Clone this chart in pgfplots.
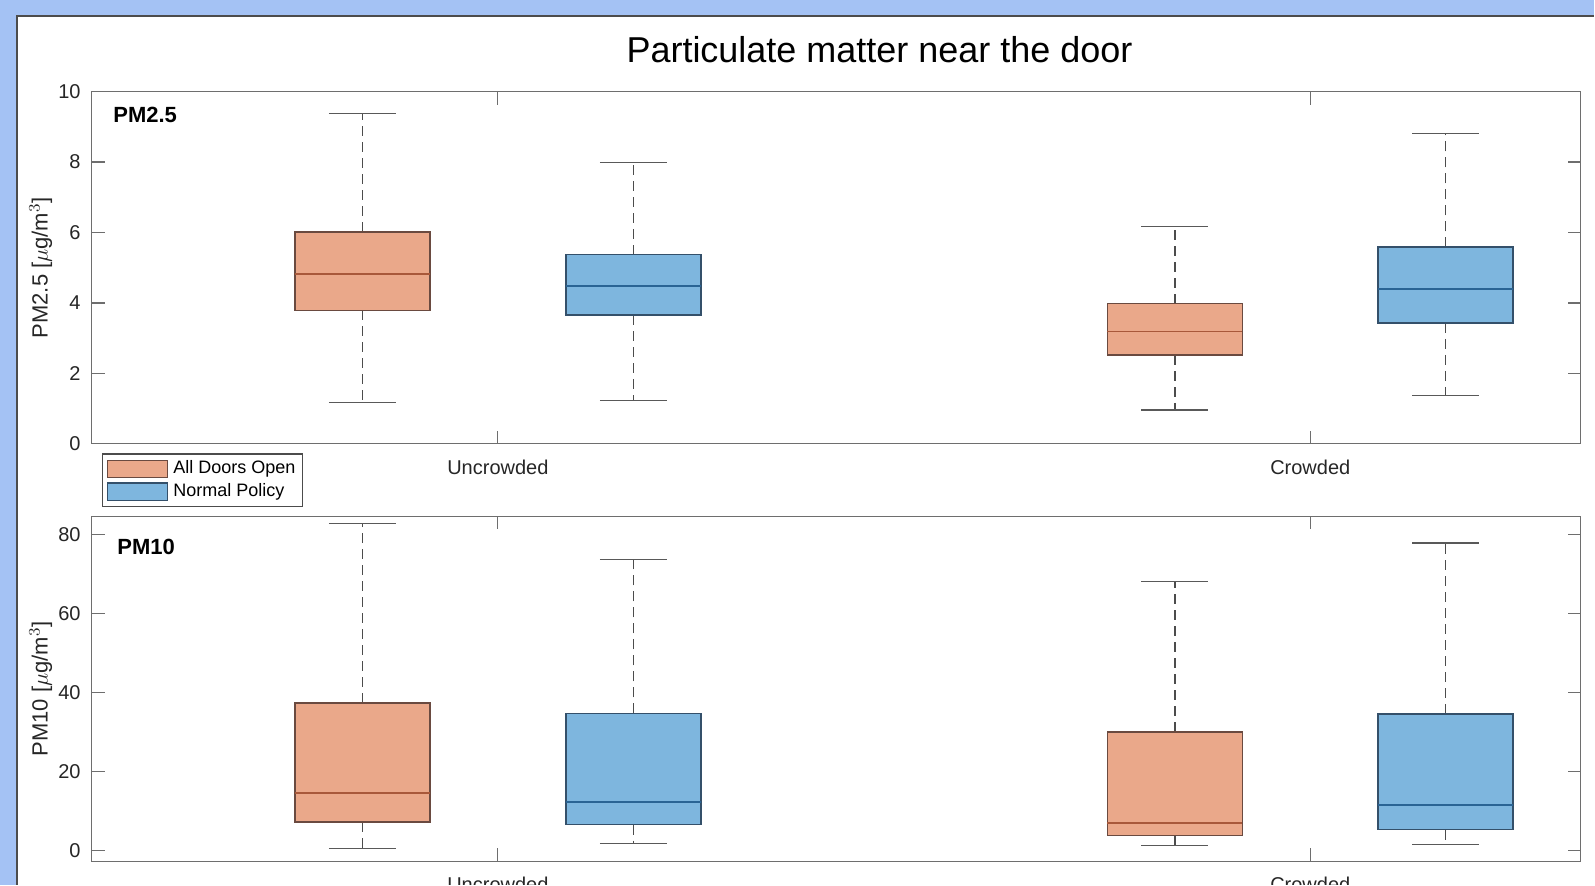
\documentclass[border=0pt]{standalone}
\usepackage{fontspec}
\setmainfont{Liberation Sans}
\usepackage{pgfplots}
\pgfplotsset{compat=1.18}
\definecolor{bgblue}{HTML}{A4C2F4}
\definecolor{orfill}{HTML}{EAA88A}
\definecolor{oredge}{HTML}{6A4A40}
\definecolor{ormedc}{HTML}{A8583A}
\definecolor{blfill}{HTML}{7EB6DE}
\definecolor{bledge}{HTML}{34506A}
\definecolor{blmedc}{HTML}{2A6494}
\definecolor{axgray}{HTML}{6E6E6E}
\definecolor{txtgray}{HTML}{262626}

\pgfplotsset{
  mybox/.style={
    scale only axis, width=745pt,
    xmin=0.5, xmax=2.333,
    xtick={1,2}, xticklabels={Uncrowded,Crowded},
    tick pos=both, ticklabel pos=left,
    tick align=inside, major tick length=6.5pt,
    axis line style={axgray, line width=0.6pt},
    every tick/.style={axgray, line width=0.6pt},
    tick label style={font=\fontsize{10}{12}\selectfont, text=txtgray},
    /pgf/number format/assume math mode=true,
    xticklabel style={yshift=-4.5pt},
    yticklabel style={xshift=-2pt},
    label style={font=\fontsize{11}{13}\selectfont, text=txtgray},
    ylabel style={at={(axis description cs:-0.0342,0.5)}, anchor=center},
    unbounded coords=jump,
  },
  orbox/.style={draw=oredge, fill=orfill, line width=0.8pt, mark=none, forget plot},
  blbox/.style={draw=bledge, fill=blfill, line width=0.8pt, mark=none, forget plot},
  ormed/.style={draw=ormedc, line width=0.9pt, mark=none, forget plot},
  blmed/.style={draw=blmedc, line width=0.9pt, mark=none, forget plot},
  whisk/.style={draw=black!70, line width=0.7pt, dash pattern=on 5pt off 3pt, mark=none, forget plot},
  wcap/.style={draw=black!65, line width=0.7pt, mark=none, forget plot},
}

\begin{document}
\begin{tikzpicture}
\fill[bgblue] (0pt,0pt) rectangle (797.5pt,442.5pt);
\fill[white] (8.5pt,0pt) rectangle (797.5pt,434.5pt);
\draw[black!70, line width=0.9pt] (8.5pt,0pt) -- (8.5pt,434.5pt) -- (797.5pt,434.5pt);
\path[use as bounding box] (0pt,0pt) rectangle (797.5pt,442.5pt);
\node[font=\fontsize{18}{21}\selectfont, text=black] at (440pt,417.5pt) {Particulate matter near the door};

\begin{scope}
\clip (0pt,0pt) rectangle (797.5pt,442.5pt);

% ---- PM2.5 ----
\begin{axis}[mybox,
  at={(45.85pt,220.5pt)}, anchor=south west,
  height=176.15pt,
  ymin=0, ymax=10, ytick={0,2,4,6,8,10},
  ylabel={PM2.5 [$\mu$g/m$^3$]},
  legend style={at={(axis description cs:0.0067,-0.0275)}, anchor=north west,
    draw=black!70, line width=0.6pt, fill=white,
    font=\fontsize{9}{10}\selectfont, text=black,
    inner xsep=2.2pt, inner ysep=1.7pt, row sep=0pt, column sep=1.5pt,
    nodes={inner sep=1.2pt, text height=7pt, text depth=2pt}},
  legend cell align=left,
]
\addlegendimage{legend image code/.code={\draw[draw=oredge, fill=orfill, line width=0.7pt] (0pt,-4.3pt) rectangle (30pt,4.3pt);}}
\addlegendentry{All Doors Open}
\addlegendimage{legend image code/.code={\draw[draw=bledge, fill=blfill, line width=0.7pt] (0pt,-4.3pt) rectangle (30pt,4.3pt);}}
\addlegendentry{Normal Policy}

% Uncrowded, All Doors Open: lw 1.18, q1 3.79, med 4.82, q3 6.02, uw 9.375
\addplot[whisk] coordinates {(0.8333,6.02) (0.8333,9.375) (nan,nan) (0.8333,3.79) (0.8333,1.18)};
\addplot[wcap] coordinates {(0.7921,9.375) (0.8745,9.375) (nan,nan) (0.7921,1.18) (0.8745,1.18)};
\addplot[orbox] coordinates {(0.7502,3.79) (0.9164,3.79) (0.9164,6.02) (0.7502,6.02)} -- cycle;
\addplot[ormed] coordinates {(0.7502,4.82) (0.9164,4.82)};
% Uncrowded, Normal Policy: lw 1.22, q1 3.65, med 4.49, q3 5.37, uw 7.99
\addplot[whisk] coordinates {(1.1667,5.37) (1.1667,7.99) (nan,nan) (1.1667,3.65) (1.1667,1.22)};
\addplot[wcap] coordinates {(1.1255,7.99) (1.2079,7.99) (nan,nan) (1.1255,1.22) (1.2079,1.22)};
\addplot[blbox] coordinates {(1.0836,3.65) (1.2498,3.65) (1.2498,5.37) (1.0836,5.37)} -- cycle;
\addplot[blmed] coordinates {(1.0836,4.49) (1.2498,4.49)};
% Crowded, All Doors Open: lw 0.96, q1 2.52, med 3.19, q3 3.98, uw 6.17
\addplot[whisk] coordinates {(1.8333,3.98) (1.8333,6.17) (nan,nan) (1.8333,2.52) (1.8333,0.96)};
\addplot[wcap] coordinates {(1.7921,6.17) (1.8745,6.17) (nan,nan) (1.7921,0.96) (1.8745,0.96)};
\addplot[orbox] coordinates {(1.7502,2.52) (1.9164,2.52) (1.9164,3.98) (1.7502,3.98)} -- cycle;
\addplot[ormed] coordinates {(1.7502,3.19) (1.9164,3.19)};
% Crowded, Normal Policy: lw 1.37, q1 3.43, med 4.39, q3 5.58, uw 8.81
\addplot[whisk] coordinates {(2.1667,5.58) (2.1667,8.81) (nan,nan) (2.1667,3.43) (2.1667,1.37)};
\addplot[wcap] coordinates {(2.1255,8.81) (2.2079,8.81) (nan,nan) (2.1255,1.37) (2.2079,1.37)};
\addplot[blbox] coordinates {(2.0836,3.43) (2.2498,3.43) (2.2498,5.58) (2.0836,5.58)} -- cycle;
\addplot[blmed] coordinates {(2.0836,4.39) (2.2498,4.39)};

\node[anchor=west, inner sep=0pt, font=\bfseries\fontsize{11}{13}\selectfont] at (rel axis cs:0.0143,0.934) {PM2.5};
\end{axis}

% ---- PM10 ----
\begin{axis}[mybox,
  at={(45.85pt,11.65pt)}, anchor=south west,
  height=172.5pt,
  ymin=-2.79, ymax=84.64, ytick={0,20,40,60,80},
  ylabel={PM10 [$\mu$g/m$^3$]},
]
% Uncrowded, All Doors Open: lw 0.43, q1 7.1, med 14.5, q3 37.35, uw 82.9
\addplot[whisk] coordinates {(0.8333,37.35) (0.8333,82.9) (nan,nan) (0.8333,7.1) (0.8333,0.43)};
\addplot[wcap] coordinates {(0.7921,82.9) (0.8745,82.9) (nan,nan) (0.7921,0.43) (0.8745,0.43)};
\addplot[orbox] coordinates {(0.7502,7.1) (0.9164,7.1) (0.9164,37.35) (0.7502,37.35)} -- cycle;
\addplot[ormed] coordinates {(0.7502,14.5) (0.9164,14.5)};
% Uncrowded, Normal Policy: lw 1.7, q1 6.5, med 12.3, q3 34.7, uw 73.7
\addplot[whisk] coordinates {(1.1667,34.7) (1.1667,73.7) (nan,nan) (1.1667,6.5) (1.1667,1.7)};
\addplot[wcap] coordinates {(1.1255,73.7) (1.2079,73.7) (nan,nan) (1.1255,1.7) (1.2079,1.7)};
\addplot[blbox] coordinates {(1.0836,6.5) (1.2498,6.5) (1.2498,34.7) (1.0836,34.7)} -- cycle;
\addplot[blmed] coordinates {(1.0836,12.3) (1.2498,12.3)};
% Crowded, All Doors Open: lw 1.2, q1 3.7, med 6.85, q3 30.0, uw 68.1
\addplot[whisk] coordinates {(1.8333,30.0) (1.8333,68.1) (nan,nan) (1.8333,3.7) (1.8333,1.2)};
\addplot[wcap] coordinates {(1.7921,68.1) (1.8745,68.1) (nan,nan) (1.7921,1.2) (1.8745,1.2)};
\addplot[orbox] coordinates {(1.7502,3.7) (1.9164,3.7) (1.9164,30.0) (1.7502,30.0)} -- cycle;
\addplot[ormed] coordinates {(1.7502,6.85) (1.9164,6.85)};
% Crowded, Normal Policy: lw 1.5, q1 5.25, med 11.4, q3 34.6, uw 77.9
\addplot[whisk] coordinates {(2.1667,34.6) (2.1667,77.9) (nan,nan) (2.1667,5.25) (2.1667,1.5)};
\addplot[wcap] coordinates {(2.1255,77.9) (2.2079,77.9) (nan,nan) (2.1255,1.5) (2.2079,1.5)};
\addplot[blbox] coordinates {(2.0836,5.25) (2.2498,5.25) (2.2498,34.6) (2.0836,34.6)} -- cycle;
\addplot[blmed] coordinates {(2.0836,11.4) (2.2498,11.4)};

\node[anchor=west, inner sep=0pt, font=\bfseries\fontsize{11}{13}\selectfont] at (rel axis cs:0.017,0.912) {PM10};
\end{axis}
\end{scope}
\end{tikzpicture}
\end{document}
